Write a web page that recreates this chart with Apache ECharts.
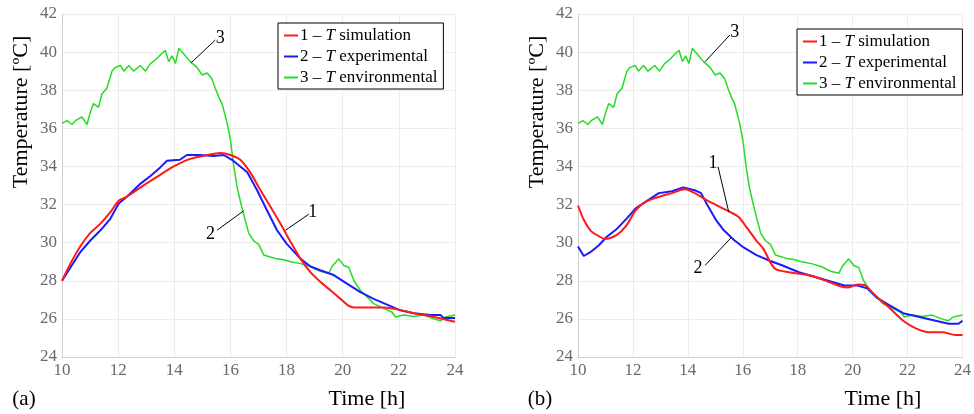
<!DOCTYPE html>
<html><head><meta charset="utf-8">
<script src="https://cdn.jsdelivr.net/npm/echarts@6/dist/echarts.min.js"></script>
<style>html,body{margin:0;padding:0;background:#fff}#c{width:974px;height:414px}</style>
</head><body><div id="c"></div>
<script>
// ---- data: [time h, temperature °C] ----
const xTicks = [10, 12, 14, 16, 18, 20, 22, 24];
const yTicks = [24, 26, 28, 30, 32, 34, 36, 38, 40, 42];

const envT = [[10,36.26],[10.18,36.4],[10.36,36.2],[10.48,36.4],[10.71,36.6],[10.89,36.2],[11.0,36.8],[11.12,37.3],[11.3,37.1],[11.42,37.8],[11.6,38.1],[11.78,39.0],[11.9,39.2],[12.08,39.3],[12.2,39.0],[12.38,39.3],[12.55,39.0],[12.79,39.3],[12.97,39.0],[13.15,39.4],[13.33,39.6],[13.5,39.85],[13.68,40.1],[13.8,39.5],[13.92,39.8],[14.04,39.4],[14.16,40.2],[14.34,39.9],[14.57,39.5],[14.81,39.2],[14.99,38.8],[15.17,38.9],[15.34,38.6],[15.46,38.1],[15.58,37.65],[15.7,37.3],[15.88,36.3],[16.0,35.4],[16.12,34.0],[16.24,32.9],[16.35,32.2],[16.47,31.5],[16.65,30.5],[16.83,30.1],[17.01,29.9],[17.19,29.35],[17.42,29.25],[17.66,29.15],[17.9,29.1],[18.14,29.0],[18.5,28.9],[18.85,28.75],[19.2,28.5],[19.5,28.4],[19.62,28.75],[19.86,29.15],[20.04,28.8],[20.22,28.7],[20.4,28.0],[20.63,27.5],[20.87,27.15],[21.1,26.8],[21.46,26.55],[21.76,26.35],[21.88,26.1],[22.17,26.2],[22.53,26.13],[22.89,26.2],[23.24,26.0],[23.48,25.9],[23.66,26.1],[24,26.2]];

const simA = [[10,28.0],[10.3,28.9],[10.65,29.8],[11.0,30.5],[11.37,31.0],[11.72,31.6],[12.02,32.2],[12.3,32.4],[12.8,32.9],[13.38,33.45],[13.98,34.0],[14.57,34.4],[15.17,34.6],[15.64,34.7],[16.0,34.6],[16.35,34.35],[16.7,33.7],[17.07,32.75],[17.42,31.9],[17.78,31.0],[18.14,30.05],[18.5,29.15],[18.85,28.45],[19.2,27.95],[19.56,27.5],[19.92,27.05],[20.2,26.7],[20.4,26.6],[20.87,26.6],[21.46,26.6],[21.94,26.5],[22.53,26.3],[23.24,26.1],[24,25.85]];

const expA = [[10,28.0],[10.3,28.7],[10.65,29.5],[11.0,30.1],[11.37,30.65],[11.72,31.25],[12.02,32.05],[12.3,32.4],[12.8,33.1],[13.15,33.5],[13.5,33.95],[13.74,34.3],[14.2,34.35],[14.45,34.6],[14.93,34.6],[15.4,34.55],[15.76,34.6],[16.1,34.3],[16.6,33.7],[16.95,32.75],[17.3,31.7],[17.66,30.65],[18.0,29.95],[18.5,29.15],[18.85,28.75],[19.2,28.55],[19.68,28.3],[20.15,27.85],[20.63,27.4],[21.1,27.05],[21.58,26.75],[22.05,26.45],[22.53,26.3],[23.12,26.2],[23.48,26.2],[23.6,26.05],[24,26.05]];

const simB = [[10,31.95],[10.21,31.2],[10.45,30.65],[10.69,30.4],[10.98,30.2],[11.4,30.4],[11.76,30.9],[12.1,31.7],[12.47,32.15],[12.94,32.4],[13.42,32.6],[13.9,32.8],[14.25,32.6],[14.72,32.2],[15.2,31.85],[15.55,31.6],[15.85,31.35],[16.14,30.8],[16.5,30.1],[16.74,29.7],[17.03,28.9],[17.21,28.6],[17.69,28.45],[18.16,28.35],[18.64,28.2],[19.11,27.95],[19.58,27.7],[19.82,27.65],[20.18,27.8],[20.47,27.75],[20.71,27.4],[21.0,27.0],[21.36,26.55],[21.84,25.9],[22.3,25.5],[22.79,25.3],[23.26,25.3],[23.74,25.15],[24,25.15]];

const expB = [[10,29.8],[10.21,29.3],[10.45,29.5],[10.75,29.85],[11.04,30.3],[11.4,30.7],[11.76,31.25],[12.1,31.8],[12.47,32.15],[12.94,32.6],[13.42,32.7],[13.83,32.9],[14.25,32.75],[14.48,32.6],[14.72,31.95],[15.02,31.2],[15.31,30.65],[15.67,30.15],[16.03,29.75],[16.5,29.35],[16.98,29.05],[17.45,28.8],[18.04,28.45],[18.64,28.2],[19.23,27.95],[19.7,27.75],[20.18,27.75],[20.53,27.6],[20.89,27.1],[21.36,26.7],[21.84,26.3],[22.43,26.1],[23.02,25.9],[23.5,25.75],[23.86,25.75],[24,25.9]];

const seriesNames = ['1 – T simulation', '2 – T experimental', '3 – T environmental'];
const legendText = ['1 – {i|T} simulation', '2 – {i|T} experimental', '3 – {i|T} environmental'];
const panelLabels = ['(a)', '(b)'];
// annotations: [label, text point, line start, line end] in data coords
const notesA = [['3',[15.64,40.72],[15.46,40.63],[14.6,39.44]],['2',[15.29,30.42],[15.52,30.65],[16.47,31.67]],['1',[18.93,31.58],[17.96,30.65],[18.79,31.49]]];
const notesB = [['3',[15.71,41.04],[15.53,40.9],[14.63,39.5]],['1',[14.92,34.15],[15.1,33.98],[15.49,31.6]],['2',[14.37,28.67],[14.63,28.81],[15.58,30.27]]];

const colors = ['#ff1a1a', '#1a1aff', '#22dd22'];
const FONT = 'Liberation Serif';

const chart = echarts.init(document.getElementById('c'), null, {renderer: 'canvas'});

function xAx(g) {
  return {type:'value', gridIndex:g, min:xTicks[0], max:xTicks[xTicks.length-1], interval:2,
    axisLine:{show:true, lineStyle:{color:'#d0d0d0'}},
    axisTick:{show:false},
    splitLine:{show:true, lineStyle:{color:'#ececec', width:1}},
    axisLabel:{fontFamily:FONT, fontSize:17, color:'#6a6a6a', margin:5}};
}
function yAx(g) {
  return {type:'value', gridIndex:g, min:yTicks[0], max:yTicks[yTicks.length-1], interval:2,
    axisLine:{show:true, lineStyle:{color:'#d0d0d0'}},
    axisTick:{show:false},
    splitLine:{show:true, lineStyle:{color:'#ececec', width:1}},
    axisLabel:{fontFamily:FONT, fontSize:17, color:'#6a6a6a', margin:5}};
}
function ser(name, data, g, ci, w, sm) {
  return {name:name, type:'line', xAxisIndex:g, yAxisIndex:g, data:data, showSymbol:false, smooth:sm||false,
    symbol:'none', lineStyle:{color:colors[ci], width:w}, itemStyle:{color:colors[ci]}, animation:false, z: 3-ci};
}
function legend(left, top) {
  return {orient:'vertical', left:left, top:top, data:seriesNames, icon:'rect', itemWidth:14, itemHeight:2,
    itemGap:4, padding:[4,6,3,6], borderColor:'#000', borderWidth:1, backgroundColor:'#fff',
    formatter:function(n){return legendText[seriesNames.indexOf(n)];},
    selectedMode:false,
    textStyle:{fontFamily:FONT, fontSize:17, color:'#000', padding:[0,0,0,-3],
      rich:{i:{fontFamily:FONT, fontSize:17, fontStyle:'italic', color:'#000'}}}};
}

chart.setOption({
  backgroundColor:'#fff',
  animation:false,
  grid:[{left:62, top:14, width:393, height:343}, {left:578, top:14, width:393, height:343}],
  xAxis:[xAx(0), xAx(1)],
  yAxis:[yAx(0), yAx(1)],
  legend:[legend(278, 23), legend(797, 29)],
  series:[
    ser(seriesNames[2], envT, 0, 2, 1.5),
    ser(seriesNames[1], expA, 0, 1, 2),
    ser(seriesNames[0], simA, 0, 0, 2, 0.3),
    ser(seriesNames[2], envT, 1, 2, 1.5),
    ser(seriesNames[1], expB, 1, 1, 2),
    ser(seriesNames[0], simB, 1, 0, 2, 0.3)
  ]
});

const gr = [];
function txt(x, y, s, size, extra) {
  return Object.assign({type:'text', x:x, y:y, style:{text:s, fontFamily:FONT, fontSize:size, fill:'#000', align:'center', verticalAlign:'middle'}, z:10}, extra||{});
}
[[notesA,0],[notesB,1]].forEach(function(p){
  p[0].forEach(function(n){
    const t = chart.convertToPixel({gridIndex:p[1]}, n[1]);
    const a = chart.convertToPixel({gridIndex:p[1]}, n[2]);
    const b = chart.convertToPixel({gridIndex:p[1]}, n[3]);
    gr.push({type:'line', shape:{x1:a[0], y1:a[1], x2:b[0], y2:b[1]}, style:{stroke:'#000', lineWidth:1}, z:10});
    gr.push(txt(t[0], t[1], n[0], 18));
  });
});
// axis titles and panel labels
const gridsPx = [[62,14,393,343],[578,14,393,343]];
gridsPx.forEach(function(g, i){
  gr.push(txt(g[0]-41, 112, 'Temperature [ºC]', 22, {rotation:Math.PI/2}));
  gr.push(txt(g[0]+305, 399, 'Time [h]', 22));
  gr.push(txt(g[0]-38, 399, panelLabels[i], 21));
});
chart.setOption({graphic:gr});
</script>
</body></html>
